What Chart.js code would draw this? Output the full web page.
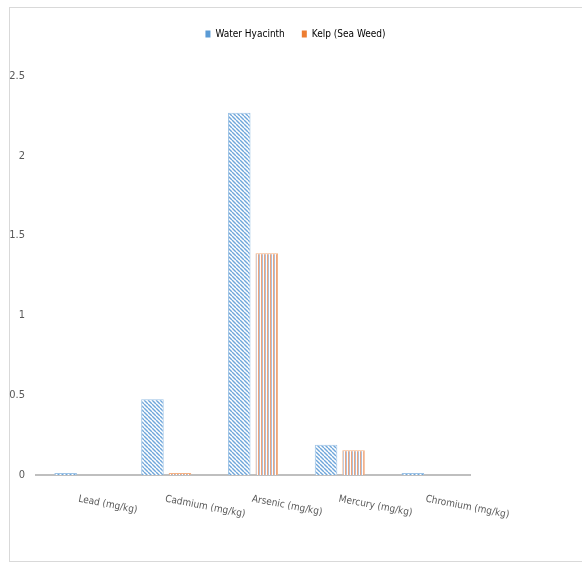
<!DOCTYPE html>
<html>
<head>
<meta charset="utf-8">
<script src="https://cdn.jsdelivr.net/npm/chart.js@4"></script>
<style>
    html, body { margin: 0; padding: 0; background: #fff; overflow: hidden; }
    #wrap { position: relative; width: 582px; height: 564px; }
    #frame { position: absolute; left: 9px; top: 7px; width: 620px; height: 555px; border: 1px solid #d9d9d9; box-sizing: border-box; }
    canvas { position: absolute; left: 0; top: 0; }
</style>
</head>
<body>
<div id="wrap">
    <div id="frame"></div>
    <canvas id="chart" width="582" height="564"></canvas>
</div>
<script>
const categories = ["Lead (mg/kg)", "Cadmium (mg/kg)", "Arsenic (mg/kg)", "Mercury (mg/kg)", "Chromium (mg/kg)"];
const waterHyacinth = [0.012, 0.475, 2.27, 0.19, 0.012];
const kelp = [0, 0.012, 1.39, 0.155, 0];
const seriesNames = ["Water Hyacinth", "Kelp (Sea Weed)"];
const yTicks = [0, 0.5, 1, 1.5, 2, 2.5];

const FONT = "'DejaVu Sans Condensed', 'DejaVu Sans', sans-serif";
const TEXT = "#595959";

// hatched fills
function diagPattern() {
    const c = document.createElement("canvas");
    c.width = 4; c.height = 4;
    const g = c.getContext("2d");
    g.fillStyle = "#fff";
    g.fillRect(0, 0, 4, 4);
    g.strokeStyle = "#6fa6da";
    g.lineWidth = 1.4;
    for (let o = -4; o <= 4; o += 4) {
        g.beginPath();
        g.moveTo(o, 0);
        g.lineTo(o + 4, 4);
        g.stroke();
    }
    return g.createPattern(c, "repeat");
}

function vertPattern() {
    const c = document.createElement("canvas");
    c.width = 3; c.height = 3;
    const g = c.getContext("2d");
    g.fillStyle = "#fff";
    g.fillRect(0, 0, 3, 3);
    g.fillStyle = "#eea47c";
    g.fillRect(0, 0, 1, 3);
    g.fillStyle = "#aebfd8";
    g.fillRect(1, 0, 1, 3);
    return g.createPattern(c, "repeat");
}

// extra room under the legend
const legendGap = {
    id: "legendGap",
    beforeInit(chart) {
        const fit = chart.legend.fit;
        chart.legend.fit = function() {
            fit.bind(chart.legend)();
            this.height += 27;
        };
    }
};

const slantLabels = {
    id: "slantLabels",
    afterDraw(chart) {
        const ctx = chart.ctx;
        const x = chart.scales.x;
        const base = chart.chartArea.bottom + 19;
        ctx.save();
        ctx.font = "10px " + FONT;
        ctx.fillStyle = TEXT;
        ctx.textAlign = "left";
        ctx.textBaseline = "top";
        categories.forEach((label, i) => {
            ctx.save();
            ctx.translate(x.getPixelForValue(i), base);
            ctx.rotate(11 * Math.PI / 180);
            ctx.fillText(label, 0, 0);
            ctx.restore();
        });
        ctx.restore();
    }
};

new Chart(document.getElementById("chart"), {
    type: "bar",
    data: {
        labels: categories,
        datasets: [
            {
                label: seriesNames[0],
                data: waterHyacinth,
                backgroundColor: diagPattern(),
                borderColor: "#9dc3e6",
                borderWidth: 1,
                categoryPercentage: 0.634,
                barPercentage: 0.82
            },
            {
                label: seriesNames[1],
                data: kelp,
                backgroundColor: vertPattern(),
                borderColor: "#f4b183",
                borderWidth: 1,
                categoryPercentage: 0.634,
                barPercentage: 0.82
            }
        ]
    },
    options: {
        responsive: false,
        animation: false,
        layout: { padding: { left: 9, right: 0, top: 12, bottom: 0 } },
        plugins: {
            tooltip: { enabled: false },
            legend: {
                position: "top",
                labels: {
                    color: TEXT,
                    font: { family: FONT, size: 10 },
                    boxWidth: 5,
                    boxHeight: 7,
                    padding: 17,
                    generateLabels: () => [
                        { text: seriesNames[0], fillStyle: "#5b9bd5", strokeStyle: "#5b9bd5", lineWidth: 0, datasetIndex: 0 },
                        { text: seriesNames[1], fillStyle: "#ed7d31", strokeStyle: "#ed7d31", lineWidth: 0, datasetIndex: 1 }
                    ]
                }
            }
        },
        scales: {
            x: {
                grid: { display: false },
                border: { display: true, color: "#bfbfbf", width: 2 },
                ticks: { display: false },
                afterFit: s => { s.height = 89; }
            },
            y: {
                min: 0,
                max: 2.5,
                afterBuildTicks: s => { s.ticks = yTicks.map(v => ({ value: v })); },
                grid: { display: false, drawTicks: false },
                border: { display: false },
                ticks: {
                    color: TEXT,
                    font: { family: FONT, size: 11 },
                    padding: 11,
                    callback: v => String(v)
                },
                afterFit: s => { s.width = 27; }
            },
            // empty strip on the right
            spacer: {
                type: "linear",
                position: "right",
                grid: { display: false, drawTicks: false },
                border: { display: false },
                ticks: { display: false },
                afterFit: s => { s.width = 112; }
            }
        }
    },
    plugins: [legendGap, slantLabels]
});
</script>
</body>
</html>
